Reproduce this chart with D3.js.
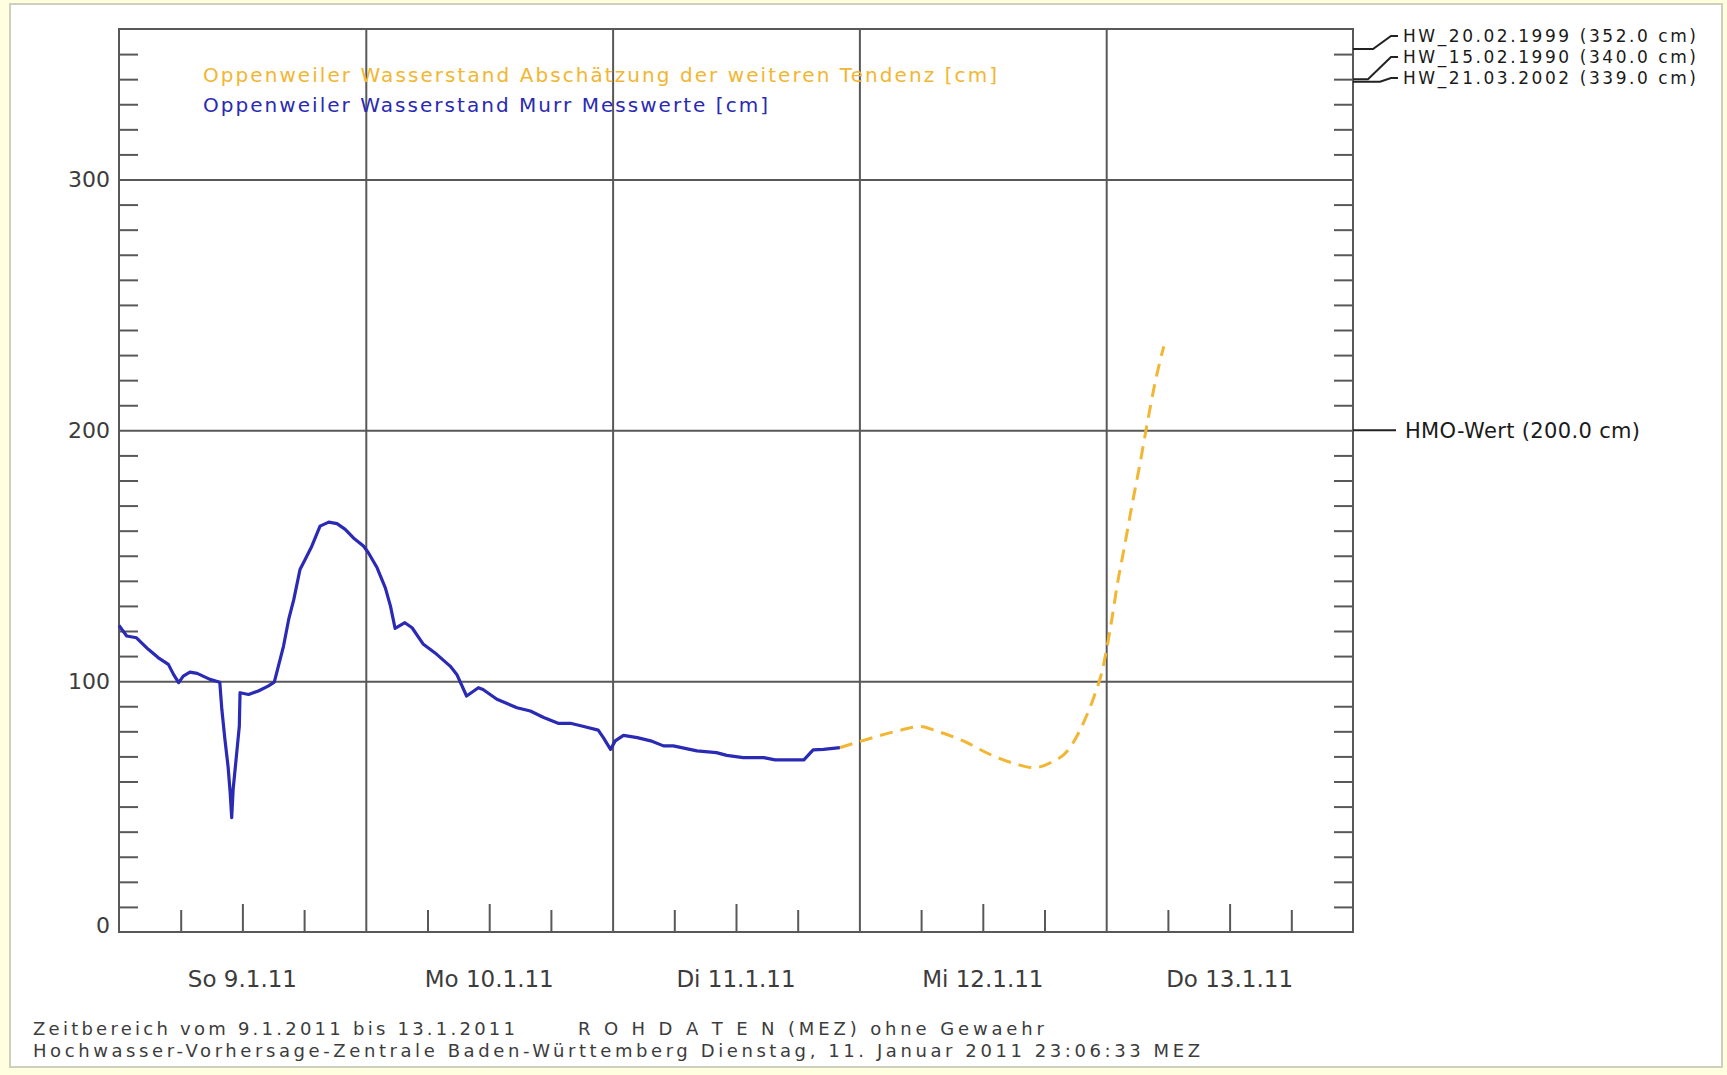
<!DOCTYPE html>
<html>
<head>
<meta charset="utf-8">
<script src="https://cdn.jsdelivr.net/npm/d3@7"></script>
<style>
  html, body { margin: 0; padding: 0; background: #FFFFE0; }
  svg { display: block; }
  text { font-family: "DejaVu Sans", "Liberation Sans", sans-serif; }
</style>
</head>
<body>
<script>
// ---------------- data ----------------
// hours since 9.1.2011 00:00 (MEZ)
const measuredHours = [0, 0.75, 1.7, 2.85, 3.8, 4.8, 5.3, 5.8, 6.25, 6.9, 7.6, 8.85, 9.8,
  10.0, 10.3, 10.6, 10.8, 10.96, 11.1, 11.45, 11.7, 11.77, 12.6, 13.55, 14.5, 15.1, 15.5,
  16.0, 16.5, 17.0, 17.6, 18.1, 18.75, 19.55, 20.4, 21.2, 22.0, 22.8, 23.8, 24.25, 25.1,
  25.9, 26.4, 26.85, 27.8, 28.5, 29.6, 30.9, 32.2, 32.85, 33.8, 34.95, 35.4, 36.75, 38.7,
  40.0, 41.3, 42.7, 43.9, 45.2, 46.6, 47.1, 47.8, 48.25, 49.06, 50.4, 51.7, 52.95, 53.9,
  56.2, 58.1, 59.1, 60.7, 62.7, 63.8, 66.6, 67.5, 68.5, 70.1];
const measuredValues = [122.2, 118, 117.3, 112.7, 109.4, 106.7, 102.7, 99.4, 102, 103.6, 103.1, 100.7, 99.6,
  88.8, 76.8, 66.2, 56.2, 45.6, 56.9, 71.5, 82.1, 95.4, 94.7, 96.1, 98, 99.6, 106,
  114, 124.6, 132.6, 144.5, 148.5, 153.8, 161.8, 163.4, 162.8, 160.5, 157.1, 153.8, 151.2, 145.2,
  137.2, 129.9, 121, 123.3, 121.3, 114.7, 110.7, 106, 102.7, 94.1, 97.4, 96.7, 92.8, 89.4,
  88.1, 85.5, 83.2, 83.2, 81.9, 80.5, 77.5, 72.8, 76.2, 78.4, 77.5, 76.2, 74.2, 74.2,
  72.2, 71.5, 70.4, 69.5, 69.5, 68.6, 68.6, 72.6, 72.8, 73.5];

const forecastHours = [70.1, 72.25, 75.65, 77.9, 79.5, 82.1, 84.7, 87.3, 88.95, 90.6, 92.35,
  93.8, 94.95, 95.6, 96.1, 96.6, 97.1, 97.7, 98.5, 99.3, 100.0, 100.7, 101.6];
const forecastValues = [73.5, 76.2, 80.1, 81.9, 80.1, 76.2, 70.8, 66.9, 65.5, 67.5, 72.8,
  83.5, 95.4, 104, 114, 126, 139, 152, 170, 187, 203, 218, 233.5];

const dayLabels = ["So 9.1.11", "Mo 10.1.11", "Di 11.1.11", "Mi 12.1.11", "Do 13.1.11"];
const yTickLabels = [0, 100, 200, 300];
const legendLabels = ["Oppenweiler Wasserstand Abschätzung der weiteren Tendenz [cm]",
                      "Oppenweiler Wasserstand Murr Messwerte [cm]"];
const markLabels = ["HW_20.02.1999 (352.0 cm)", "HW_15.02.1990 (340.0 cm)", "HW_21.03.2002 (339.0 cm)"];
const markValues = [352, 340, 339];
const hmoLabel = "HMO-Wert (200.0 cm)";
const hmoValue = 200;
const footerLeft = "Zeitbereich vom 9.1.2011 bis 13.1.2011";
const footerMid = "R O H D A T E N (MEZ) ohne Gewaehr";
const footerLine2 = "Hochwasser-Vorhersage-Zentrale Baden-Württemberg Dienstag, 11. Januar 2011 23:06:33 MEZ";

// ---------------- layout ----------------
const W = 1727, H = 1075;
const L = 119, R = 1353, T = 29, B = 932;
const gridCol = "#585858", txtCol = "#3c3c3c";
const blue = "#2a2ab4", orange = "#f2b632";

const svg = d3.select("body").append("svg").attr("width", W).attr("height", H);
svg.append("rect").attr("width", W).attr("height", H).attr("fill", "#FFFFE0");
svg.append("rect").attr("x", 10).attr("y", 4).attr("width", 1712).attr("height", 1063)
  .attr("fill", "#fff").attr("stroke", "#cfcfc0").attr("stroke-width", 2);

const x = d3.scaleLinear().domain([0, 120]).range([L, R]);
const y = d3.scaleLinear().domain([0, 360]).range([B, T]);

// gridlines
const hGrid = svg.append("g").attr("transform", `translate(${L},0)`)
  .call(d3.axisLeft(y).tickValues([100, 200, 300]).tickSize(-(R - L)).tickFormat(""));
const vGrid = svg.append("g").attr("transform", `translate(0,${B})`)
  .call(d3.axisBottom(x).tickValues([24, 48, 72, 96]).tickSize(-(B - T)).tickFormat(""));
[hGrid, vGrid].forEach(g => {
  g.select(".domain").remove();
  g.selectAll("line").attr("stroke", gridCol).attr("stroke-width", 2);
});

// minor y ticks (inside, both sides)
const minorY = d3.range(10, 360, 10).filter(v => v % 100 !== 0);
const yl = svg.append("g").attr("transform", `translate(${L},0)`)
  .call(d3.axisLeft(y).tickValues(minorY).tickSize(-19).tickFormat(""));
const yr = svg.append("g").attr("transform", `translate(${R},0)`)
  .call(d3.axisRight(y).tickValues(minorY).tickSize(-19).tickFormat(""));
// minor x ticks (6-hourly, from bottom)
const minorX = d3.range(6, 120, 6).filter(h => h % 24 !== 0);
const xb = svg.append("g").attr("transform", `translate(0,${B})`)
  .call(d3.axisBottom(x).tickValues(minorX).tickSize(-22).tickFormat(""));
xb.selectAll(".tick line").attr("y2", h => (h % 24 === 12 ? -28 : -22));
[yl, yr, xb].forEach(g => {
  g.select(".domain").remove();
  g.selectAll("line").attr("stroke", gridCol).attr("stroke-width", 2);
});

// frame
svg.append("rect").attr("x", L).attr("y", T).attr("width", R - L).attr("height", B - T)
  .attr("fill", "none").attr("stroke", gridCol).attr("stroke-width", 2);

// y labels
svg.append("g").selectAll("text").data(yTickLabels).join("text")
  .attr("x", L - 9).attr("y", v => v === 0 ? y(v) - 7 : y(v))
  .attr("dy", "0.36em").attr("text-anchor", "end")
  .attr("font-size", 22).attr("fill", txtCol).text(v => v);

// x labels (noon of each day)
svg.append("g").selectAll("text").data(dayLabels).join("text")
  .attr("x", (d, i) => x(i * 24 + 12)).attr("y", 987)
  .attr("text-anchor", "middle").attr("font-size", 23).attr("fill", txtCol).text(d => d);

// series
const measured = measuredHours.map((h, i) => [h, measuredValues[i]]);
const forecast = forecastHours.map((h, i) => [h, forecastValues[i]]);
svg.append("path").datum(forecast)
  .attr("d", d3.line().x(d => x(d[0])).y(d => y(d[1])).curve(d3.curveMonotoneX))
  .attr("fill", "none").attr("stroke", orange).attr("stroke-width", 3)
  .attr("stroke-dasharray", "13,8");
svg.append("path").datum(measured)
  .attr("d", d3.line().x(d => x(d[0])).y(d => y(d[1])))
  .attr("fill", "none").attr("stroke", blue).attr("stroke-width", 3.2)
  .attr("stroke-linejoin", "round");

// legend
const legendCols = [orange, blue];
const legendWidths = [794, 565];
legendLabels.forEach((t, i) => {
  svg.append("text").attr("x", 203).attr("y", 82 + i * 30)
    .attr("font-size", 20).attr("fill", legendCols[i])
    .attr("textLength", legendWidths[i]).attr("lengthAdjust", "spacing").text(t);
});

// high water marks on the right
const markTextY = [36, 57, 78];
const markKnee = [1373, 1368, 1380];
markLabels.forEach((t, i) => {
  const yv = y(markValues[i]);
  svg.append("path")
    .attr("d", `M${R},${yv}H${markKnee[i]}L1391,${markTextY[i]}H1398`)
    .attr("fill", "none").attr("stroke", "#222").attr("stroke-width", 2);
  svg.append("text").attr("x", 1403).attr("y", markTextY[i]).attr("dy", "0.36em")
    .attr("font-size", 17).attr("fill", "#1a1a1a")
    .attr("textLength", 293).attr("lengthAdjust", "spacing").text(t);
});
// HMO mark
svg.append("line").attr("x1", R).attr("x2", 1396).attr("y1", y(hmoValue)).attr("y2", y(hmoValue))
  .attr("stroke", "#222").attr("stroke-width", 2);
svg.append("text").attr("x", 1405).attr("y", y(hmoValue)).attr("dy", "0.36em")
  .attr("font-size", 21).attr("fill", "#1a1a1a")
  .attr("textLength", 235).attr("lengthAdjust", "spacing").text(hmoLabel);

// footer
svg.append("text").attr("x", 33).attr("y", 1035).attr("font-size", 18).attr("fill", txtCol)
  .attr("textLength", 482).attr("lengthAdjust", "spacing").text(footerLeft);
svg.append("text").attr("x", 578).attr("y", 1035).attr("font-size", 18).attr("fill", txtCol)
  .attr("textLength", 466).attr("lengthAdjust", "spacing").text(footerMid);
svg.append("text").attr("x", 33).attr("y", 1057).attr("font-size", 18).attr("fill", txtCol)
  .attr("textLength", 1167).attr("lengthAdjust", "spacing").text(footerLine2);
</script>
</body>
</html>
